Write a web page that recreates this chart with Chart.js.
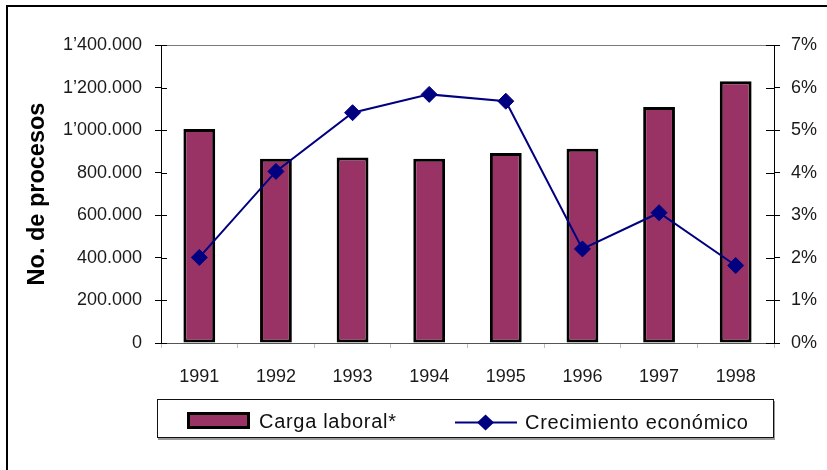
<!DOCTYPE html>
<html>
<head>
<meta charset="utf-8">
<script src="https://cdn.jsdelivr.net/npm/chart.js@4.4.1/dist/chart.umd.min.js"></script>
<style>
html,body{margin:0;padding:0;background:#fff;}
#wrap{position:relative;width:827px;height:470px;overflow:hidden;font-family:'Liberation Sans',Arial,sans-serif;background:#fff;}
#frame{position:absolute;left:6px;top:5px;width:900px;height:600px;border-left:2px solid #000;border-top:2px solid #000;}
#c{position:absolute;left:0;top:0;}
#legend{position:absolute;left:157px;top:399px;width:615px;height:37px;border:1px solid #111;box-shadow:1px 2px 0 #9a9a9a;background:#fff;}
.lg-txt{position:absolute;font-size:20px;line-height:24px;color:#111;letter-spacing:0.7px;white-space:nowrap;}
#sw1{position:absolute;left:187px;top:412px;width:63px;height:17px;box-sizing:border-box;border:3px solid #000;background:#993366;}
#sw2{position:absolute;left:455px;top:414px;}
</style>
</head>
<body>
<div id="wrap">
  <div id="frame"></div>
  <canvas id="c" width="827" height="470"></canvas>
  <div id="legend"></div>
  <div id="sw1"></div>
  <div class="lg-txt" id="t1" style="left:259px;top:409px;"></div>
  <svg id="sw2" width="64" height="18" viewBox="0 0 64 18">
    <line x1="0" y1="8.5" x2="62" y2="8.5" stroke="#000080" stroke-width="2"/>
    <polygon points="30.5,0.5 39,8.5 30.5,16.5 22,8.5" fill="#000080"/>
  </svg>
  <div class="lg-txt" id="t2" style="left:525px;top:410px;"></div>
</div>
<script>
// ---- data ----
const years = ['1991', '1992', '1993', '1994', '1995', '1996', '1997', '1998'];
const cargaLaboral = [1005000, 866000, 872000, 866000, 893000, 912000, 1109000, 1230000];
const crecimientoEconomico = [2.01, 4.03, 5.41, 5.84, 5.68, 2.21, 3.06, 1.82];
const leftTickLabels = ['0', '200.000', '400.000', '600.000', '800.000', '1\u2019000.000', '1\u2019200.000', '1\u2019400.000'];
const rightTickLabels = ['0%', '1%', '2%', '3%', '4%', '5%', '6%', '7%'];
const seriesNames = ['Carga laboral*', 'Crecimiento econ\u00f3mico'];
const yTitle = 'No. de procesos';

document.getElementById('t1').textContent = seriesNames[0];
document.getElementById('t2').textContent = seriesNames[1];

const FONT = "'Liberation Sans', Arial, sans-serif";

const innerTicks = {
  id: 'innerTicks',
  afterDraw(chart) {
    const ctx = chart.ctx, a = chart.chartArea;
    ctx.save();
    ctx.strokeStyle = '#000';
    ctx.lineWidth = 1;
    const y = chart.scales.y, y1 = chart.scales.y1;
    y.ticks.forEach(t => {
      const p = Math.round(y.getPixelForValue(t.value)) + 0.5;
      ctx.beginPath(); ctx.moveTo(a.left, p); ctx.lineTo(a.left + 6, p); ctx.stroke();
    });
    y1.ticks.forEach(t => {
      const p = Math.round(y1.getPixelForValue(t.value)) + 0.5;
      ctx.beginPath(); ctx.moveTo(a.right - 8, p); ctx.lineTo(a.right, p); ctx.stroke();
    });
    ctx.restore();
  }
};

new Chart(document.getElementById('c'), {
  data: {
    labels: years,
    datasets: [
      {
        type: 'line',
        label: seriesNames[1],
        data: crecimientoEconomico,
        yAxisID: 'y1',
        borderColor: '#000080',
        backgroundColor: '#000080',
        borderWidth: 2,
        pointStyle: 'rectRot',
        pointRadius: 8,
        pointBorderWidth: 1,
        pointBackgroundColor: '#000080',
        pointBorderColor: '#000080',
        tension: 0,
        order: 0
      },
      {
        type: 'bar',
        label: seriesNames[0],
        data: cargaLaboral,
        yAxisID: 'y',
        backgroundColor: '#993366',
        borderColor: '#000',
        borderWidth: 3,
        borderSkipped: false,
        categoryPercentage: 1,
        barPercentage: 0.415,
        order: 1
      }
    ]
  },
  options: {
    responsive: false,
    animation: false,
    devicePixelRatio: 1,
    layout: { padding: { left: 8, right: 0, top: 45, bottom: 60 } },
    plugins: { legend: { display: false }, tooltip: { enabled: false } },
    scales: {
      x: {
        afterFit(s) { s.height = 67; },
        offset: true,
        grid: { display: true, drawOnChartArea: false, offset: true, tickLength: 5, tickColor: 'rgba(0,0,0,0.25)' },
        border: { display: true, color: '#555', width: 1 },
        ticks: { color: '#1a1a1a', font: { family: FONT, size: 18 }, padding: 18, maxRotation: 0, autoSkip: false }
      },
      y: {
        position: 'left',
        min: 0, max: 1400000,
        afterFit(s) { s.width = 153; },
        grid: {
          drawOnChartArea: true,
          color: c => (c.tick && c.tick.value === 1400000) ? '#7a7a7a' : 'rgba(0,0,0,0)',
          tickColor: '#000', tickLength: 6
        },
        border: { display: true, color: '#000', width: 1 },
        ticks: {
          stepSize: 200000,
          color: '#1a1a1a',
          font: { family: FONT, size: 18 },
          padding: 13,
          callback: (v, i) => leftTickLabels[i]
        },
        title: {
          display: true,
          text: yTitle,
          color: '#000',
          font: { family: FONT, size: 23.5, weight: 'bold' },
          padding: { top: 15, bottom: 0 }
        }
      },
      y1: {
        position: 'right',
        min: 0, max: 7,
        afterFit(s) { s.width = 53; },
        grid: { drawOnChartArea: false, tickColor: '#000', tickLength: 6 },
        border: { display: true, color: '#000', width: 1 },
        ticks: {
          stepSize: 1,
          color: '#1a1a1a',
          font: { family: FONT, size: 18 },
          padding: 11,
          callback: (v, i) => rightTickLabels[i]
        }
      }
    }
  },
  plugins: [innerTicks]
});
</script>
</body>
</html>
